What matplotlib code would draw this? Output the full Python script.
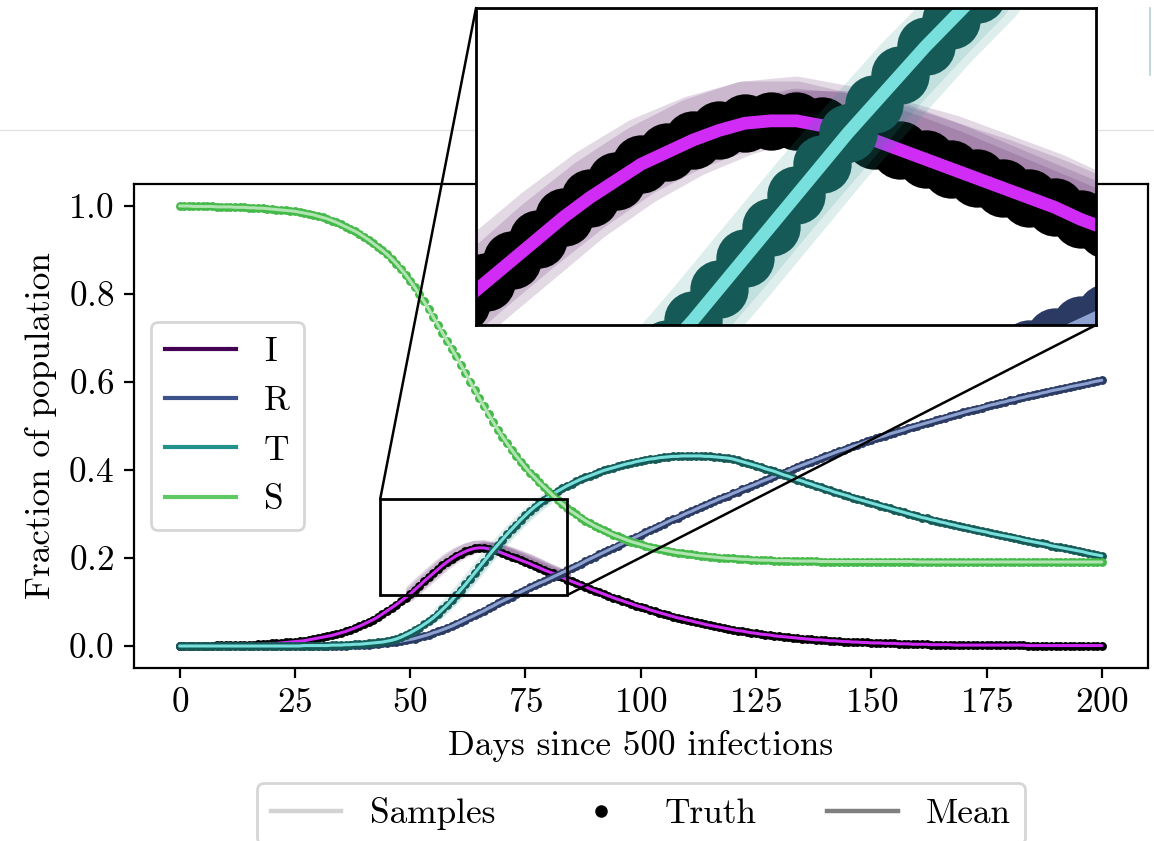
import numpy as np
import matplotlib.pyplot as plt
from matplotlib.lines import Line2D
from matplotlib.patches import Rectangle, ConnectionPatch

plt.rcParams['font.family'] = 'serif'
plt.rcParams['font.serif'] = ['cmr10']
plt.rcParams['mathtext.fontset'] = 'cm'
plt.rcParams['axes.formatter.use_mathtext'] = True
plt.rcParams['axes.unicode_minus'] = False
plt.rcParams['font.size'] = 12.7

days = np.arange(201)

# ground truth trajectories, one value per day
I_truth = [0.000, 0.000, 0.001, 0.001, 0.001, 0.001, 0.001, 0.001, 0.002, 0.002,
           0.002, 0.002, 0.002, 0.002, 0.003, 0.003, 0.003, 0.004, 0.004, 0.005,
           0.006, 0.006, 0.007, 0.008, 0.009, 0.010, 0.011, 0.012, 0.014, 0.016,
           0.018, 0.020, 0.022, 0.024, 0.027, 0.030, 0.033, 0.037, 0.041, 0.045,
           0.050, 0.055, 0.060, 0.066, 0.073, 0.080, 0.087, 0.094, 0.102, 0.110,
           0.118, 0.128, 0.137, 0.147, 0.156, 0.165, 0.174, 0.183, 0.191, 0.198,
           0.205, 0.210, 0.215, 0.219, 0.222, 0.223, 0.223, 0.221, 0.218, 0.215,
           0.211, 0.207, 0.203, 0.199, 0.195, 0.191, 0.187, 0.182, 0.178, 0.173,
           0.169, 0.165, 0.160, 0.156, 0.151, 0.147, 0.143, 0.139, 0.135, 0.130,
           0.126, 0.122, 0.118, 0.114, 0.110, 0.106, 0.103, 0.099, 0.096, 0.092,
           0.089, 0.086, 0.082, 0.079, 0.076, 0.073, 0.070, 0.067, 0.064, 0.062,
           0.059, 0.057, 0.054, 0.052, 0.049, 0.047, 0.045, 0.043, 0.041, 0.039,
           0.037, 0.035, 0.034, 0.032, 0.030, 0.029, 0.027, 0.026, 0.025, 0.023,
           0.022, 0.021, 0.020, 0.019, 0.018, 0.017, 0.016, 0.015, 0.014, 0.014,
           0.013, 0.012, 0.012, 0.011, 0.010, 0.010, 0.009, 0.009, 0.008, 0.008,
           0.007, 0.007, 0.007, 0.006, 0.006, 0.006, 0.005, 0.005, 0.005, 0.004,
           0.004, 0.004, 0.004, 0.003, 0.003, 0.003, 0.003, 0.003, 0.002, 0.002,
           0.002, 0.002, 0.002, 0.002, 0.002, 0.002, 0.002, 0.002, 0.002, 0.002,
           0.002, 0.002, 0.002, 0.002, 0.001, 0.001, 0.001, 0.001, 0.001, 0.001,
           0.001, 0.001, 0.001, 0.001, 0.001, 0.001, 0.001, 0.001, 0.001, 0.001,
           0.001]

R_truth = [0.000] * 30 + [
           0.000, 0.000, 0.001, 0.001, 0.001, 0.001, 0.001, 0.002, 0.002, 0.002,
           0.003, 0.003, 0.004, 0.005, 0.006, 0.007, 0.008, 0.009, 0.011, 0.013,
           0.015, 0.017, 0.020, 0.023, 0.026, 0.030, 0.033, 0.037, 0.041, 0.045,
           0.050, 0.055, 0.060, 0.065, 0.070, 0.075, 0.080, 0.086, 0.091, 0.097,
           0.102, 0.107, 0.112, 0.118, 0.123, 0.128, 0.133, 0.138, 0.143, 0.147,
           0.152, 0.157, 0.162, 0.167, 0.172, 0.177, 0.182, 0.187, 0.193, 0.198,
           0.203, 0.208, 0.213, 0.218, 0.223, 0.228, 0.233, 0.238, 0.243, 0.248,
           0.253, 0.258, 0.263, 0.268, 0.273, 0.278, 0.283, 0.288, 0.292, 0.297,
           0.302, 0.306, 0.311, 0.316, 0.320, 0.325, 0.329, 0.334, 0.338, 0.342,
           0.347, 0.351, 0.356, 0.360, 0.364, 0.368, 0.373, 0.377, 0.381, 0.386,
           0.390, 0.394, 0.398, 0.403, 0.407, 0.411, 0.415, 0.419, 0.423, 0.427,
           0.431, 0.435, 0.439, 0.443, 0.446, 0.450, 0.454, 0.457, 0.461, 0.465,
           0.468, 0.472, 0.475, 0.478, 0.482, 0.485, 0.488, 0.491, 0.495, 0.498,
           0.501, 0.504, 0.507, 0.510, 0.513, 0.516, 0.519, 0.522, 0.525, 0.528,
           0.531, 0.534, 0.537, 0.539, 0.542, 0.545, 0.548, 0.550, 0.553, 0.555,
           0.558, 0.560, 0.563, 0.565, 0.568, 0.570, 0.572, 0.575, 0.577, 0.580,
           0.582, 0.584, 0.586, 0.589, 0.591, 0.593, 0.595, 0.597, 0.600, 0.602,
           0.604]

T_truth = [0.000] * 20 + [
           0.000, 0.000, 0.000, 0.000, 0.000, 0.000, 0.000, 0.001, 0.001, 0.001,
           0.001, 0.001, 0.001, 0.002, 0.002, 0.002, 0.003, 0.003, 0.004, 0.004,
           0.005, 0.006, 0.007, 0.008, 0.009, 0.011, 0.013, 0.016, 0.020, 0.025,
           0.030, 0.036, 0.042, 0.049, 0.056, 0.064, 0.073, 0.083, 0.093, 0.104,
           0.116, 0.128, 0.140, 0.153, 0.166, 0.179, 0.192, 0.205, 0.218, 0.230,
           0.242, 0.254, 0.265, 0.276, 0.287, 0.297, 0.307, 0.316, 0.324, 0.332,
           0.339, 0.346, 0.352, 0.358, 0.364, 0.369, 0.374, 0.379, 0.383, 0.387,
           0.391, 0.395, 0.399, 0.402, 0.405, 0.408, 0.411, 0.414, 0.416, 0.419,
           0.421, 0.423, 0.425, 0.426, 0.428, 0.429, 0.430, 0.431, 0.431, 0.432,
           0.432, 0.432, 0.432, 0.432, 0.431, 0.431, 0.430, 0.429, 0.428, 0.427,
           0.425, 0.422, 0.419, 0.416, 0.413, 0.410, 0.407, 0.403, 0.400, 0.397,
           0.393, 0.389, 0.386, 0.382, 0.378, 0.375, 0.371, 0.368, 0.364, 0.361,
           0.357, 0.354, 0.350, 0.347, 0.344, 0.341, 0.337, 0.334, 0.331, 0.328,
           0.325, 0.322, 0.319, 0.316, 0.313, 0.310, 0.307, 0.304, 0.301, 0.298,
           0.295, 0.292, 0.290, 0.287, 0.285, 0.282, 0.280, 0.277, 0.275, 0.272,
           0.270, 0.268, 0.265, 0.263, 0.261, 0.259, 0.256, 0.254, 0.252, 0.250,
           0.248, 0.246, 0.244, 0.241, 0.239, 0.237, 0.235, 0.233, 0.231, 0.228,
           0.226, 0.224, 0.222, 0.220, 0.218, 0.216, 0.214, 0.211, 0.209, 0.207,
           0.205]

S_truth = [1.000, 1.000, 1.000, 0.999, 0.999, 0.999, 0.999, 0.999, 0.998, 0.998,
           0.998, 0.998, 0.997, 0.997, 0.997, 0.996, 0.996, 0.995, 0.995, 0.994,
           0.993, 0.992, 0.991, 0.990, 0.989, 0.988, 0.986, 0.984, 0.982, 0.980,
           0.977, 0.974, 0.971, 0.967, 0.963, 0.958, 0.953, 0.948, 0.943, 0.937,
           0.930, 0.923, 0.915, 0.907, 0.899, 0.890, 0.880, 0.869, 0.857, 0.844,
           0.830, 0.815, 0.799, 0.783, 0.766, 0.748, 0.730, 0.712, 0.694, 0.676,
           0.658, 0.639, 0.620, 0.601, 0.582, 0.563, 0.545, 0.527, 0.509, 0.492,
           0.476, 0.461, 0.446, 0.432, 0.419, 0.406, 0.394, 0.383, 0.372, 0.362,
           0.352, 0.342, 0.332, 0.323, 0.314, 0.306, 0.299, 0.292, 0.285, 0.279,
           0.273, 0.268, 0.263, 0.258, 0.253, 0.249, 0.245, 0.241, 0.237, 0.234,
           0.231, 0.228, 0.225, 0.223, 0.220, 0.218, 0.216, 0.214, 0.212, 0.211,
           0.209, 0.208, 0.206, 0.205, 0.204, 0.203, 0.202, 0.201, 0.200, 0.199,
           0.199, 0.198, 0.197, 0.197, 0.196, 0.196, 0.195, 0.195, 0.195, 0.194,
           0.194, 0.194, 0.194, 0.193, 0.193, 0.193, 0.193, 0.193, 0.193, 0.192,
           ] + [0.192] * 20 + [0.191] * 41

# a few posterior draws around the peak (only where they stand out)
I_sample_days = np.arange(50, 85, 2)
I_samples = [
    [0.128, 0.148, 0.167, 0.185, 0.201, 0.214, 0.223, 0.229, 0.229, 0.224, 0.217, 0.209, 0.200, 0.191, 0.182, 0.173, 0.164, 0.155],
    [0.110, 0.128, 0.147, 0.165, 0.183, 0.198, 0.210, 0.219, 0.225, 0.225, 0.221, 0.215, 0.207, 0.199, 0.189, 0.179, 0.170, 0.161],
    [0.122, 0.142, 0.161, 0.180, 0.197, 0.211, 0.222, 0.229, 0.231, 0.227, 0.220, 0.212, 0.203, 0.194, 0.185, 0.176, 0.167, 0.158],
    [0.114, 0.133, 0.152, 0.170, 0.187, 0.202, 0.213, 0.221, 0.226, 0.224, 0.219, 0.212, 0.205, 0.197, 0.188, 0.178, 0.169, 0.160],
]
T_sample_days = np.arange(56, 81, 2)
T_samples = [
    [0.066, 0.085, 0.106, 0.129, 0.154, 0.180, 0.206, 0.230, 0.254, 0.276, 0.296, 0.314, 0.330],
    [0.069, 0.089, 0.111, 0.135, 0.160, 0.186, 0.211, 0.236, 0.259, 0.281, 0.301, 0.319, 0.335],
    [0.078, 0.099, 0.122, 0.147, 0.173, 0.199, 0.224, 0.248, 0.270, 0.291, 0.310, 0.327, 0.342],
]

compartments = ['I', 'R', 'T', 'S']
truth = [I_truth, R_truth, T_truth, S_truth]
samples = {'I': (I_sample_days, I_samples), 'T': (T_sample_days, T_samples)}

base_colors = ['#440154', '#3b528b', '#21918c', '#5ec962']
truth_colors = ['#000000', '#2a3a62', '#165a57', '#45b94a']
mean_colors = ['#d02cf5', '#8ea2d2', '#78e0dc', '#b0e4b0']

x_ticks = [0, 25, 50, 75, 100, 125, 150, 175, 200]

# zoom window drawn on the main axes, and the range shown in the inset
box_x = (43.5, 84.1)
box_y = (0.116, 0.334)
ins_x = (53.6, 77.6)
ins_y = (0.138, 0.270)


def draw_curves(a, ms, lw_mean, lw_samp):
    for k, name in enumerate(compartments):
        if name in samples:
            sx, sets = samples[name]
            for s in sets:
                a.plot(sx, s, color=base_colors[k], lw=lw_samp, alpha=0.15,
                       solid_capstyle='round', solid_joinstyle='round')
        a.plot(days, truth[k], 'o', ms=ms, color=truth_colors[k], mew=0)
        a.plot(days, truth[k], color=mean_colors[k], lw=lw_mean,
               solid_capstyle='round', solid_joinstyle='round')


fig = plt.figure(figsize=(5.77, 4.205), dpi=200)
ax = fig.add_axes([0.1157, 0.2057, 0.879, 0.5755])
axins = fig.add_axes([0.4125, 0.6136, 0.5373, 0.3769])

# faint rules at the top edge of the canvas
fig.add_artist(Line2D([0, 1], [1 - 130 / 841] * 2, transform=fig.transFigure,
                      color='#e2e2e2', lw=0.5, zorder=-1))
fig.add_artist(Line2D([0.9965, 0.9965], [0.9905, 0.911], transform=fig.transFigure,
                      color='#b8d0d8', lw=0.6, zorder=-1))

draw_curves(ax, 3.2, 1.1, 3.2)
ax.set_xticks(x_ticks)
ax.set_xlabel('Days since 500 infections')
ax.set_ylabel('Fraction of population')

handles = [Line2D([], [], color=c) for c in base_colors]
ax.legend(handles, compartments, loc='center left')

ax.add_patch(Rectangle((box_x[0], box_y[0]), box_x[1] - box_x[0], box_y[1] - box_y[0],
                       fill=False, ec='black', lw=1.0, zorder=5))

draw_curves(axins, 21, 4.6, 18)
axins.set_xlim(*ins_x)
axins.set_ylim(*ins_y)
axins.set_xticks([])
axins.set_yticks([])
for sp in axins.spines.values():
    sp.set_linewidth(1.0)

for xyA, xyB in [((box_x[0], box_y[1]), (0, 1)), ((box_x[1], box_y[0]), (1, 0))]:
    con = ConnectionPatch(xyA=xyA, coordsA=ax.transData, xyB=xyB, coordsB=axins.transAxes,
                          color='black', lw=0.9)
    fig.add_artist(con)

key = [Line2D([], [], color='lightgray', lw=1.6),
       Line2D([], [], color='black', marker='o', ls='', ms=3.5),
       Line2D([], [], color='gray', lw=1.6)]
fig.legend(key, ['Samples', 'Truth', 'Mean'], loc='upper center',
           bbox_to_anchor=(0.5553, 0.069), ncol=3, borderaxespad=0)

fig.savefig('out.png', dpi=200)
